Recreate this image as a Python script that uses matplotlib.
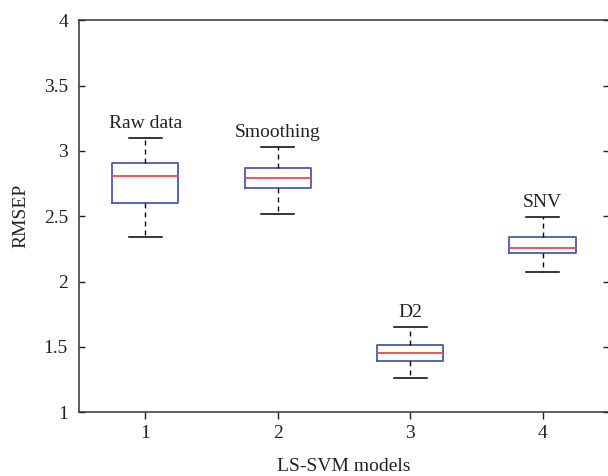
import matplotlib
matplotlib.use("Agg")
import matplotlib.pyplot as plt

plt.rcParams['font.family'] = ['Liberation Serif', 'DejaVu Serif']

positions = [1, 2, 3, 4]
labels = ["Raw data", "Smoothing", "D2", "SNV"]
whis_low = [2.339, 2.52, 1.262, 2.076]
q1 = [2.60, 2.716, 1.392, 2.219]
median = [2.808, 2.793, 1.456, 2.255]
q3 = [2.91, 2.871, 1.517, 2.344]
whis_high = [3.10, 3.032, 1.655, 2.497]
label_y = [3.174, 3.104, 1.727, 2.573]

fig = plt.figure(figsize=(6.08, 4.76), dpi=100)
ax = fig.add_axes([79/608, 63.7/476, 529.8/608, (412.3-20.2)/476])

stats = []
for i in range(len(positions)):
    stats.append(dict(med=median[i], q1=q1[i], q3=q3[i],
                      whislo=whis_low[i], whishi=whis_high[i], fliers=[]))

ax.bxp(stats, positions=positions, widths=0.5, showfliers=False,
       boxprops=dict(color='#4a5ab0', linewidth=1.3),
       medianprops=dict(color='#f04850', linewidth=1.3),
       whiskerprops=dict(color='black', linewidth=1.0, linestyle=(0, (3.5, 3))),
       capprops=dict(color='black', linewidth=1.1),
       capwidths=0.25)

for x, y, t in zip(positions, label_y, labels):
    ax.text(x, y, t, ha='center', va='baseline', fontsize=14, color='#222222')

ax.set_xlim(0.5, 4.5)
ax.set_ylim(1, 4)
ax.set_xticks(positions)
ax.set_xticklabels([str(p) for p in positions])
ax.set_yticks([1, 1.5, 2, 2.5, 3, 3.5, 4])
ax.set_yticklabels(['1', '1.5', '2', '2.5', '3', '3.5', '4'])
ax.tick_params(axis='y', direction='in', left=True, right=True, length=4,
               width=1, labelsize=14, pad=8, colors='#222222')
ax.tick_params(axis='x', direction='out', top=False, bottom=True, length=5,
               width=1, labelsize=14, pad=4, colors='#222222')
for s in ax.spines.values():
    s.set_color('#333333')
    s.set_linewidth(1.1)

ax.set_xlabel('LS-SVM models', fontsize=14, color='#222222', labelpad=12)
ax.set_ylabel('RMSEP', fontsize=14, color='#222222', labelpad=10)

fig.savefig('out.png', dpi=100)
